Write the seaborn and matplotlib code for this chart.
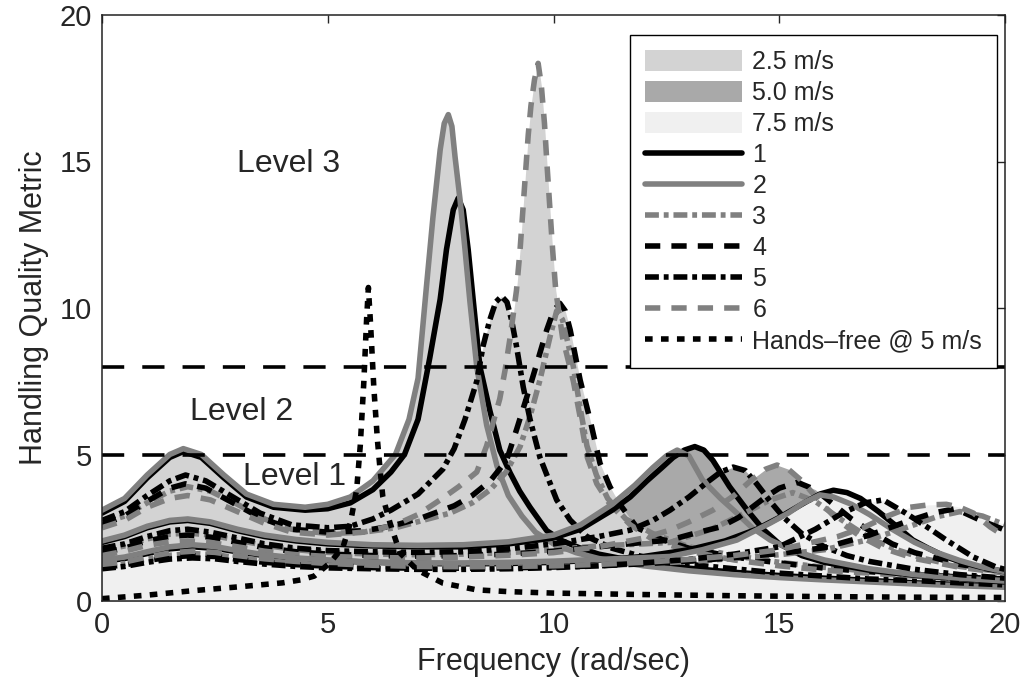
import numpy as np
import matplotlib
matplotlib.use("Agg")
import matplotlib.pyplot as plt
import seaborn as sns
from matplotlib.patches import Patch
from matplotlib.lines import Line2D

# ---- 2.5 m/s configurations ----
f25_1 = [0, 0.5, 1.0, 1.5, 1.8, 2.2, 2.7, 3.2, 3.8, 4.5, 5.0, 5.5, 6.0, 6.4, 6.7, 7.0, 7.26, 7.49, 7.63, 7.78,
         7.89, 8.0, 8.11, 8.22, 8.37, 8.59, 8.81, 9.04, 9.25, 9.48, 9.85, 10.2, 10.6, 11, 12, 13, 14, 15, 16, 17, 18, 19, 20]
v25_1 = [3.0, 3.4, 4.2, 4.9, 5.1, 4.9, 4.2, 3.55, 3.2, 3.1, 3.15, 3.35, 3.8, 4.4, 5.0, 6.2, 8.3, 10.3, 12.0, 13.35,
         13.75, 13.35, 12.0, 10.3, 8.0, 6.5, 5.15, 4.37, 3.75, 3.2, 2.4, 2.05, 1.8, 1.6, 1.3, 1.12, 0.98, 0.87, 0.78, 0.7, 0.62, 0.56, 0.5]
f25_2 = [0, 0.5, 1.0, 1.5, 1.8, 2.2, 2.7, 3.2, 3.8, 4.5, 5.0, 5.5, 6.0, 6.5, 6.8, 7.0, 7.19, 7.33, 7.49, 7.58, 7.67,
         7.75, 7.82, 7.93, 8.04, 8.15, 8.3, 8.52, 8.75, 9.0, 9.3, 9.6, 10.0, 10.5, 11, 12, 13, 14, 15, 16, 17, 18, 19, 20]
v25_2 = [3.1, 3.5, 4.3, 5.0, 5.2, 5.0, 4.3, 3.65, 3.3, 3.2, 3.3, 3.55, 4.1, 5.0, 6.2, 7.6, 10.8, 13.1, 15.4, 16.3, 16.6,
         16.2, 15.15, 13.7, 12.0, 10.2, 8.0, 6.0, 4.6, 3.6, 2.9, 2.35, 1.95, 1.65, 1.45, 1.2, 1.03, 0.9, 0.8, 0.72, 0.65, 0.58, 0.52, 0.47]
f25_3 = [0, 0.5, 1.0, 1.5, 1.9, 2.4, 3.0, 3.6, 4.2, 5.0, 5.8, 6.5, 7.1, 7.71, 8.2, 8.6, 8.95, 9.26, 9.48, 9.7,
         9.92, 10.07, 10.2, 10.44, 10.59, 10.74, 10.95, 11.2, 11.6, 12.2, 13, 14, 15, 16, 17, 18, 19, 20]
v25_3 = [2.65, 2.9, 3.35, 3.75, 3.9, 3.75, 3.3, 2.8, 2.45, 2.3, 2.35, 2.5, 2.75, 3.0, 3.35, 3.8, 4.4, 5.27, 6.3, 7.54,
         9.0, 9.9, 9.6, 8.0, 6.6, 5.3, 4.3, 3.5, 2.8, 2.3, 1.85, 1.55, 1.32, 1.15, 1.02, 0.92, 0.85, 0.78]
f25_4 = [0, 0.5, 1.0, 1.5, 1.85, 2.3, 2.9, 3.5, 4.2, 5.0, 5.8, 6.4, 7.1, 7.8, 8.2, 8.6, 8.96, 9.18, 9.41, 9.63,
         9.85, 10.0, 10.14, 10.26, 10.37, 10.59, 10.81, 11.03, 11.25, 11.47, 11.85, 12.4, 13, 14, 15, 16, 17, 18, 19, 20]
v25_4 = [2.6, 2.9, 3.4, 3.85, 4.0, 3.85, 3.35, 2.85, 2.45, 2.35, 2.4, 2.55, 2.85, 3.25, 3.6, 4.1, 4.8, 5.84, 6.97, 8.1,
         9.25, 9.9, 10.16, 9.9, 9.25, 7.54, 6.18, 4.7, 3.9, 3.3, 2.5, 2.1, 1.8, 1.5, 1.3, 1.12, 1.0, 0.9, 0.82, 0.75]
f25_5 = [0, 0.5, 1.0, 1.5, 1.85, 2.3, 2.9, 3.5, 4.2, 5.0, 5.5, 6.0, 6.4, 7.0, 7.55, 7.8, 8.04, 8.3, 8.44, 8.59,
         8.72, 8.85, 8.97, 9.07, 9.18, 9.33, 9.48, 9.7, 10.07, 10.37, 10.74, 11.3, 12, 13, 14, 15, 16, 17, 18, 19, 20]
v25_5 = [2.75, 3.05, 3.6, 4.1, 4.3, 4.1, 3.55, 3.0, 2.6, 2.5, 2.55, 2.8, 3.1, 3.65, 4.5, 5.2, 6.2, 7.5, 8.7, 9.6,
         10.2, 10.4, 10.2, 9.6, 8.7, 7.3, 6.2, 4.9, 3.45, 2.76, 2.2, 1.8, 1.5, 1.25, 1.1, 0.95, 0.85, 0.75, 0.7, 0.62, 0.55]
f25_6 = [0, 0.5, 1.0, 1.5, 1.9, 2.4, 3.0, 3.6, 4.2, 5.0, 5.8, 6.5, 7.0, 7.49, 7.9, 8.3, 8.52, 8.81, 8.93, 9.04,
         9.18, 9.26, 9.32, 9.38, 9.44, 9.5, 9.58, 9.66, 9.73, 9.8, 9.86, 9.92, 9.98, 10.05, 10.2, 10.44, 10.6, 10.75,
         10.96, 11.25, 11.7, 12.2, 13, 14, 15, 16, 17, 18, 19, 20]
v25_6 = [2.5, 2.75, 3.2, 3.5, 3.6, 3.45, 3.05, 2.65, 2.35, 2.25, 2.35, 2.6, 2.95, 3.45, 3.9, 4.4, 5.3, 6.9, 7.9, 9.0,
         10.6, 12.0, 13.3, 14.6, 15.9, 16.9, 17.8, 18.35, 17.6, 16.3, 14.8, 13.4, 12.0, 10.6, 9.0, 7.5, 6.2, 4.9,
         4.0, 3.3, 2.6, 2.1, 1.7, 1.4, 1.2, 1.05, 0.95, 0.85, 0.75, 0.7]

# ---- 5.0 m/s configurations ----
f50_1 = [0, 0.5, 1.0, 1.5, 1.9, 2.4, 3.0, 3.6, 4.3, 5.0, 6, 7, 8, 9, 10, 10.6, 11.3, 11.7, 12.07, 12.4,
         12.65, 12.9, 13.13, 13.33, 13.53, 13.9, 14.29, 14.64, 15.0, 15.5, 16, 17, 18, 19, 20]
v50_1 = [2.0, 2.2, 2.5, 2.7, 2.75, 2.65, 2.4, 2.2, 2.05, 1.95, 1.88, 1.85, 1.85, 1.95, 2.15, 2.45, 3.1, 3.55, 4.1, 4.55,
         4.9, 5.15, 5.27, 5.15, 4.8, 3.9, 3.1, 2.45, 1.95, 1.55, 1.32, 1.05, 0.88, 0.76, 0.66]
f50_2 = [0, 0.5, 1.0, 1.5, 1.9, 2.4, 3.0, 3.6, 4.3, 5.0, 6, 7, 8, 9, 10, 10.6, 11.3, 11.8, 12.2, 12.5,
         12.74, 13.0, 13.3, 13.7, 14.06, 14.4, 14.8, 15.2, 15.6, 16, 17, 18, 19, 20]
v50_2 = [2.05, 2.25, 2.55, 2.75, 2.8, 2.7, 2.45, 2.25, 2.1, 2.0, 1.92, 1.9, 1.92, 2.02, 2.25, 2.6, 3.3, 3.95, 4.55, 4.95,
         5.15, 4.95, 4.13, 3.5, 3.0, 2.5, 2.08, 1.8, 1.58, 1.4, 1.1, 0.9, 0.78, 0.68]
f50_3 = [0, 0.5, 1.0, 1.5, 1.9, 2.4, 3.0, 3.6, 4.3, 5.0, 6, 7, 8, 9, 10, 11, 12, 12.58, 13.5, 14.3,
         14.8, 15.3, 15.8, 16.4, 17.0, 17.6, 18.2, 19, 20]
v50_3 = [1.72, 1.88, 2.12, 2.28, 2.32, 2.25, 2.08, 1.9, 1.75, 1.66, 1.6, 1.58, 1.6, 1.65, 1.75, 1.88, 1.95, 2.0, 2.45, 3.05,
         3.45, 3.7, 3.4, 2.75, 2.15, 1.75, 1.45, 1.18, 0.98]
f50_4 = [0, 0.5, 1.0, 1.5, 1.9, 2.4, 3.0, 3.6, 4.3, 5.0, 6, 7, 8, 9, 10, 11, 12, 12.58, 13.1, 13.7,
         14.1, 14.4, 14.7, 15.0, 15.4, 15.8, 16.2, 16.6, 17.0, 17.5, 18, 19, 20]
v50_4 = [1.65, 1.8, 2.05, 2.2, 2.25, 2.18, 2.0, 1.82, 1.68, 1.6, 1.55, 1.53, 1.55, 1.6, 1.7, 1.85, 2.0, 2.08, 2.3, 2.53,
         2.85, 3.2, 3.55, 3.85, 4.05, 3.8, 3.3, 2.8, 2.4, 1.95, 1.65, 1.25, 1.0]
f50_5 = [0, 0.5, 1.0, 1.5, 1.9, 2.4, 3.0, 3.6, 4.3, 5.0, 6, 7, 8, 9, 10, 11, 11.7, 12.2, 12.58, 13.0,
         13.4, 13.7, 13.98, 14.25, 14.5, 14.8, 15.1, 15.5, 16, 16.5, 17, 18, 19, 20]
v50_5 = [1.8, 1.95, 2.2, 2.4, 2.45, 2.35, 2.15, 1.95, 1.8, 1.72, 1.68, 1.66, 1.68, 1.78, 1.95, 2.2, 2.42, 2.75, 3.1, 3.55,
         4.05, 4.4, 4.57, 4.45, 4.0, 3.4, 2.85, 2.3, 1.85, 1.55, 1.35, 1.08, 0.9, 0.78]
f50_6 = [0, 0.5, 1.0, 1.5, 1.9, 2.4, 3.0, 3.6, 4.3, 5.0, 6, 7, 8, 9, 10, 11, 12, 12.58, 13.0, 13.53,
         14.0, 14.4, 14.7, 14.95, 15.2, 15.5, 15.9, 16.3, 16.8, 17.3, 18, 19, 20]
v50_6 = [1.55, 1.7, 1.9, 2.02, 2.05, 2.0, 1.85, 1.7, 1.58, 1.52, 1.48, 1.47, 1.5, 1.56, 1.65, 1.85, 2.15, 2.42, 2.7, 3.1,
         3.6, 4.15, 4.5, 4.64, 4.5, 4.1, 3.4, 2.75, 2.2, 1.8, 1.45, 1.15, 0.95]

# ---- 7.5 m/s configurations ----
f75_1 = [0, 0.5, 1.0, 1.5, 2.0, 2.5, 3.0, 3.6, 4.3, 5.0, 6, 7, 8, 9, 10, 11, 12, 13, 13.8, 14.5,
         15.0, 15.5, 15.9, 16.2, 16.5, 16.8, 17.2, 17.6, 17.96, 18.3, 18.7, 19.1, 19.45, 20]
v75_1 = [1.35, 1.45, 1.62, 1.78, 1.85, 1.8, 1.68, 1.55, 1.45, 1.38, 1.32, 1.28, 1.27, 1.28, 1.32, 1.4, 1.52, 1.75, 2.05, 2.45,
         2.85, 3.3, 3.65, 3.78, 3.7, 3.5, 3.05, 2.55, 2.08, 1.8, 1.5, 1.3, 1.16, 1.0]
f75_2 = [0, 0.5, 1.0, 1.5, 2.0, 2.5, 3.0, 3.6, 4.3, 5.0, 6, 7, 8, 9, 10, 11, 12, 12.58, 13.3, 14.06,
         14.8, 15.2, 15.53, 15.9, 16.2, 16.6, 17.0, 17.5, 18.0, 18.5, 19.0, 19.5, 20]
v75_2 = [1.4, 1.5, 1.68, 1.85, 1.92, 1.86, 1.72, 1.58, 1.47, 1.4, 1.33, 1.3, 1.3, 1.32, 1.36, 1.42, 1.48, 1.52, 1.75, 2.08,
         2.66, 3.0, 3.34, 3.62, 3.55, 3.3, 2.95, 2.45, 2.0, 1.65, 1.38, 1.16, 1.0]
f75_3 = [0, 0.5, 1.0, 1.5, 2.0, 2.5, 3.0, 3.6, 4.3, 5.0, 6, 7, 8, 9, 10, 11, 12, 13, 14, 15,
         16, 17, 17.8, 18.5, 19.0, 19.5, 20]
v75_3 = [1.2, 1.28, 1.43, 1.56, 1.62, 1.58, 1.48, 1.38, 1.29, 1.23, 1.18, 1.15, 1.14, 1.15, 1.17, 1.21, 1.27, 1.35, 1.45, 1.58,
         1.75, 2.1, 2.5, 2.88, 3.05, 2.9, 2.6]
f75_4 = [0, 0.5, 1.0, 1.5, 2.0, 2.5, 3.0, 3.6, 4.3, 5.0, 6, 7, 8, 9, 10, 11, 12, 13, 14, 15,
         16, 17, 17.8, 18.4, 18.9, 19.45, 20]
v75_4 = [1.15, 1.23, 1.38, 1.5, 1.55, 1.52, 1.42, 1.32, 1.24, 1.19, 1.14, 1.12, 1.12, 1.13, 1.16, 1.2, 1.27, 1.36, 1.48, 1.62,
         1.82, 2.25, 2.7, 3.0, 3.15, 2.76, 2.42]
f75_5 = [0, 0.5, 1.0, 1.5, 2.0, 2.5, 3.0, 3.6, 4.3, 5.0, 6, 7, 8, 9, 10, 11, 12, 13, 14, 15,
         15.8, 16.4, 16.9, 17.3, 17.8, 18.27, 18.7, 19.3, 19.8, 20]
v75_5 = [1.1, 1.18, 1.32, 1.43, 1.47, 1.44, 1.35, 1.26, 1.18, 1.13, 1.1, 1.08, 1.08, 1.1, 1.14, 1.2, 1.3, 1.42, 1.6, 1.85,
         2.45, 3.0, 3.35, 3.45, 3.0, 2.53, 2.08, 1.5, 1.16, 1.08]
f75_6 = [0, 0.5, 1.0, 1.5, 2.0, 2.5, 3.0, 3.6, 4.3, 5.0, 6, 7, 8, 9, 10, 11, 12, 13, 14, 15,
         16.3, 16.9, 17.4, 17.9, 18.3, 18.7, 19.0, 19.3, 19.67, 20]
v75_6 = [1.25, 1.33, 1.5, 1.64, 1.7, 1.66, 1.55, 1.44, 1.35, 1.28, 1.22, 1.18, 1.17, 1.18, 1.2, 1.25, 1.32, 1.42, 1.55, 1.75,
         2.2, 2.53, 2.9, 3.2, 3.28, 3.3, 3.2, 3.0, 2.53, 2.2]

# ---- hands-free @ 5 m/s ----
f_hf = [0, 1, 2, 3, 4, 4.4, 4.7, 5.05, 5.34, 5.5, 5.64, 5.72, 5.8, 5.86, 5.9, 5.95, 6.02, 6.1, 6.16, 6.22,
        6.38, 6.6, 6.98, 7.55, 8.3, 9, 10, 12, 14, 16, 18, 20]
v_hf = [0.08, 0.2, 0.35, 0.48, 0.62, 0.72, 0.85, 1.3, 1.85, 2.66, 3.8, 5.3, 7.5, 9.6, 10.7, 9.4, 7.3, 5.5, 4.47, 3.55,
        2.66, 1.64, 1.06, 0.61, 0.38, 0.32, 0.27, 0.22, 0.18, 0.15, 0.13, 0.12]

speed_labels = ['2.5 m/s', '5.0 m/s', '7.5 m/s']
config_labels = ['1', '2', '3', '4', '5', '6']
level_lines = [5, 8]
level_texts = ['Level 3', 'Level 2', 'Level 1']

groups = {
    '2.5 m/s': [(f25_1, v25_1), (f25_2, v25_2), (f25_3, v25_3), (f25_4, v25_4), (f25_5, v25_5), (f25_6, v25_6)],
    '5.0 m/s': [(f50_1, v50_1), (f50_2, v50_2), (f50_3, v50_3), (f50_4, v50_4), (f50_5, v50_5), (f50_6, v50_6)],
    '7.5 m/s': [(f75_1, v75_1), (f75_2, v75_2), (f75_3, v75_3), (f75_4, v75_4), (f75_5, v75_5), (f75_6, v75_6)],
}

sns.set_style("white")
plt.rcParams['font.family'] = ['Liberation Sans', 'DejaVu Sans']
plt.rcParams['lines.scale_dashes'] = False

BLACK = 'black'
GRAY = '#808080'
fill_colors = {'2.5 m/s': '#d3d3d3', '5.0 m/s': '#a9a9a9', '7.5 m/s': '#f0f0f0'}
fill_z = {'5.0 m/s': 1.0, '2.5 m/s': 1.1, '7.5 m/s': 1.2}
dashdot = (0, (10, 3.5, 3.5, 3.5))
dashed = (0, (11, 8))
line_styles = [(BLACK, '-'), (GRAY, '-'), (GRAY, dashdot), (BLACK, dashed), (BLACK, dashdot), (GRAY, dashed)]
hf_style = (BLACK, (0, (5.5, 6)))
LW = 4.0

fig = plt.figure(figsize=(10.32, 6.89), dpi=100)
ax = fig.add_axes([102 / 1032, 88 / 689, 903 / 1032, 586 / 689])

# envelope fills for each speed
grid = np.linspace(0, 20, 4001)
for spd in speed_labels:
    env = np.max([np.interp(grid, f, v) for f, v in groups[spd]], axis=0)
    ax.fill_between(grid, 0, env, color=fill_colors[spd], lw=0, zorder=fill_z[spd])

# configuration curves
for spd in speed_labels:
    for (f, v), (col, ls) in zip(groups[spd], line_styles):
        sns.lineplot(x=f, y=v, ax=ax, color=col, linewidth=LW, linestyle=ls,
                     sort=False, estimator=None, zorder=3)

sns.lineplot(x=f_hf, y=v_hf, ax=ax, color=hf_style[0], linewidth=LW, linestyle=hf_style[1],
             sort=False, estimator=None, zorder=3)

for lvl in level_lines:
    ax.axhline(lvl, color='black', lw=2.6, linestyle=(0, (16, 13)), zorder=4)

ax.text(3.0, 14.9, level_texts[0], fontsize=23, va='center', zorder=5)
ax.text(1.95, 6.45, level_texts[1], fontsize=23, va='center', zorder=5)
ax.text(3.12, 4.23, level_texts[2], fontsize=23, va='center', zorder=5)

ax.set_xlim(0, 20)
ax.set_ylim(0, 20)
ax.set_xticks([0, 5, 10, 15, 20])
ax.set_yticks([0, 5, 10, 15, 20])
ax.tick_params(direction='in', length=6, width=1, top=True, right=True, labelsize=21, pad=7)
for sp in ax.spines.values():
    sp.set_visible(True)
    sp.set_color('#222222')
    sp.set_linewidth(1.1)
    sp.set_zorder(6)
ax.set_xlabel('Frequency (rad/sec)', fontsize=22, labelpad=6)
ax.set_ylabel('Handling Quality Metric', fontsize=22, labelpad=8)

handles = [Patch(facecolor=fill_colors[s], edgecolor='none') for s in speed_labels]
handles += [Line2D([], [], color=c, lw=LW, linestyle=ls) for c, ls in line_styles]
handles.append(Line2D([], [], color=hf_style[0], lw=LW, linestyle=hf_style[1]))
labels = speed_labels + config_labels + ['Hands\u2013free @ 5 m/s']
leg = ax.legend(handles, labels, loc='upper right', bbox_to_anchor=(997 / 1032, 1 - 35 / 689),
                bbox_transform=fig.transFigure, borderaxespad=0, fontsize=18, frameon=True,
                fancybox=False, framealpha=1, edgecolor='black', handlelength=3.9, handleheight=0.9,
                labelspacing=0.28, handletextpad=0.4, borderpad=0.6)
leg.get_frame().set_linewidth(1.0)
leg.set_zorder(10)

fig.savefig('out.png', dpi=100)
